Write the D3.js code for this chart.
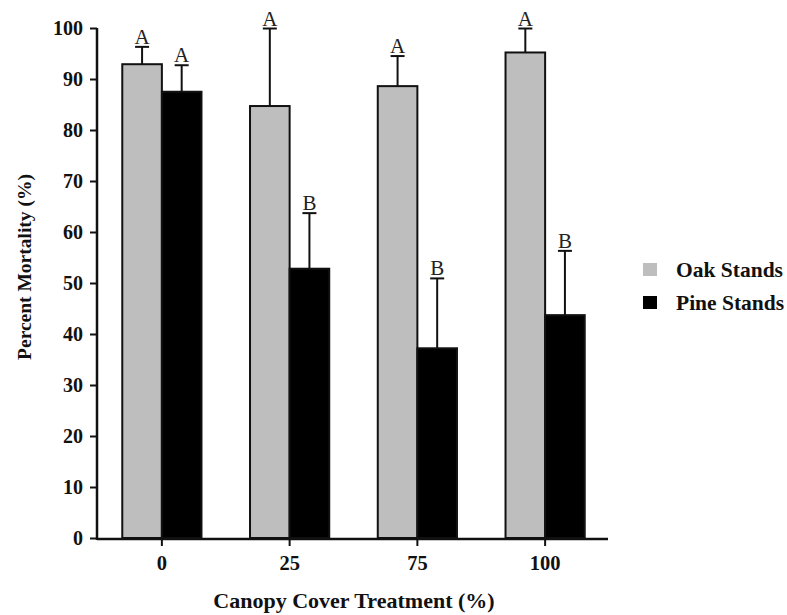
<!DOCTYPE html>
<html>
<head>
<meta charset="utf-8">
<script src="https://cdn.jsdelivr.net/npm/d3@7"></script>
<style>
  html, body { margin: 0; padding: 0; background: #fff; }
  svg { display: block; }
  text { font-family: "Liberation Serif", "Times New Roman", serif; }
</style>
</head>
<body>
<svg id="chart" width="787" height="615"></svg>
<script>
const categories = ["0", "25", "75", "100"];
const seriesNames = ["Oak Stands", "Pine Stands"];
const oakValues = [92.9, 84.7, 88.6, 95.2];
const oakErrors = [3.4, 15.2, 5.9, 4.7];
const pineValues = [87.5, 52.8, 37.2, 43.7];
const pineErrors = [5.2, 10.9, 13.7, 12.6];
const oakLetters = ["A", "A", "A", "A"];
const pineLetters = ["A", "B", "B", "B"];
const yTicks = [0, 10, 20, 30, 40, 50, 60, 70, 80, 90, 100];
const seriesColors = ["#bebebe", "#000000"];

const data = categories.map((c, i) => ({
  cat: c,
  items: [
    { s: seriesNames[0], v: oakValues[i], e: oakErrors[i], l: oakLetters[i], color: seriesColors[0] },
    { s: seriesNames[1], v: pineValues[i], e: pineErrors[i], l: pineLetters[i], color: seriesColors[1] }
  ]
}));

const svg = d3.select("#chart");
const plotLeft = 97, plotRight = 608, plotTop = 28, plotBottom = 538;

const y = d3.scaleLinear().domain([0, 100]).range([plotBottom, plotTop]);
const x0 = d3.scaleBand().domain(categories).range([plotLeft + 1, plotRight + 1]).paddingInner(0.38).paddingOuter(0.19);
const x1 = d3.scaleBand().domain(seriesNames).range([0, x0.bandwidth()]).padding(0);

// bars
const groups = svg.append("g").selectAll("g").data(data).join("g")
  .attr("transform", d => `translate(${x0(d.cat)},0)`);

groups.selectAll("line.err").data(d => d.items).join("line")
  .attr("class", "err")
  .attr("x1", d => x1(d.s) + x1.bandwidth() / 2)
  .attr("x2", d => x1(d.s) + x1.bandwidth() / 2)
  .attr("y1", d => y(d.v))
  .attr("y2", d => y(d.v + d.e))
  .attr("stroke", "#111").attr("stroke-width", 2);

groups.selectAll("line.cap").data(d => d.items).join("line")
  .attr("class", "cap")
  .attr("x1", d => x1(d.s) + x1.bandwidth() / 2 - 7)
  .attr("x2", d => x1(d.s) + x1.bandwidth() / 2 + 7)
  .attr("y1", d => y(d.v + d.e))
  .attr("y2", d => y(d.v + d.e))
  .attr("stroke", "#111").attr("stroke-width", 2);

groups.selectAll("rect").data(d => d.items).join("rect")
  .attr("x", d => x1(d.s))
  .attr("width", x1.bandwidth())
  .attr("y", d => y(d.v))
  .attr("height", d => y(0) - y(d.v))
  .attr("fill", d => d.color)
  .attr("stroke", "#111").attr("stroke-width", 2);

groups.selectAll("text.letter").data(d => d.items).join("text")
  .attr("class", "letter")
  .attr("x", d => x1(d.s) + x1.bandwidth() / 2)
  .attr("y", d => y(d.v + d.e) - 3)
  .attr("text-anchor", "middle")
  .attr("font-size", 21)
  .attr("fill", "#222")
  .text(d => d.l);

// y axis
const yAxis = svg.append("g")
  .attr("transform", `translate(${plotLeft},0)`)
  .call(d3.axisLeft(y).tickValues(yTicks).tickSize(7).tickSizeOuter(0).tickPadding(7));
yAxis.select(".domain").attr("stroke", "#111").attr("stroke-width", 2.5)
  .attr("d", `M0,${plotBottom + 2}V${plotTop}`);
yAxis.selectAll(".tick line").attr("stroke", "#111").attr("stroke-width", 2);
yAxis.selectAll(".tick text")
  .attr("font-family", "'Liberation Serif', 'Times New Roman', serif")
  .attr("font-weight", "bold").attr("font-size", 20).attr("fill", "#111");

// x axis
const xAxis = svg.append("g")
  .attr("transform", `translate(0,${plotBottom + 1})`)
  .call(d3.axisBottom(x0).tickSize(7).tickSizeOuter(0).tickPadding(9));
xAxis.select(".domain").attr("stroke", "#111").attr("stroke-width", 2.5)
  .attr("d", `M${plotLeft},0H${plotRight}`);
xAxis.selectAll(".tick line").attr("stroke", "#111").attr("stroke-width", 2);
xAxis.selectAll(".tick text")
  .attr("font-family", "'Liberation Serif', 'Times New Roman', serif")
  .attr("font-weight", "bold").attr("font-size", 20.5).attr("fill", "#111");

// axis titles
svg.append("text")
  .attr("x", 354).attr("y", 608)
  .attr("text-anchor", "middle")
  .attr("font-weight", "bold").attr("font-size", 22).attr("fill", "#111")
  .text("Canopy Cover Treatment (%)");

svg.append("text")
  .attr("transform", "translate(31,267) rotate(-90)")
  .attr("text-anchor", "middle")
  .attr("font-weight", "bold").attr("font-size", 19.5).attr("fill", "#111")
  .text("Percent Mortality (%)");

// legend
const legend = svg.append("g").selectAll("g").data(seriesNames).join("g")
  .attr("transform", (d, i) => `translate(643,${263 + i * 33})`);
legend.append("rect").attr("width", 14).attr("height", 13)
  .attr("fill", (d, i) => seriesColors[i]);
legend.append("text").attr("x", 33).attr("y", 13.5)
  .attr("font-weight", "bold").attr("font-size", 21.5).attr("fill", "#111")
  .text(d => d);
</script>
</body>
</html>
